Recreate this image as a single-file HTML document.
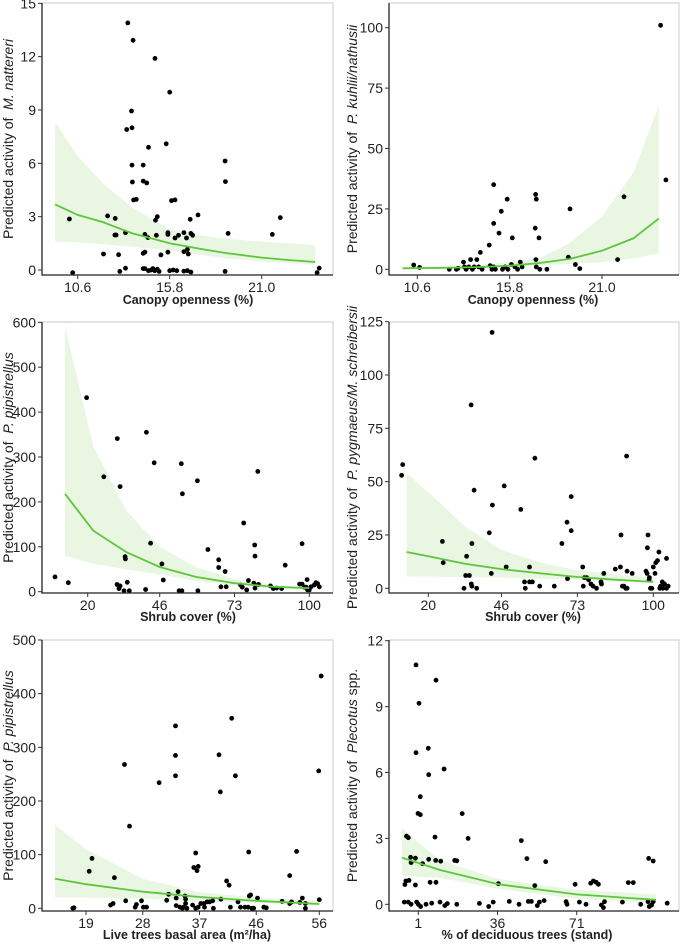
<!DOCTYPE html>
<html><head><meta charset="utf-8"><style>
html,body{margin:0;padding:0;background:#fff;}
svg{display:block;font-family:"Liberation Sans",Arial,sans-serif;}
</style></head><body>
<svg id="fig" width="680" height="944" viewBox="0 0 680 944" xmlns="http://www.w3.org/2000/svg"></svg>
<script>
// ---- Panel 1: M. nattereri vs canopy openness
const p1X=[10.13,10.32,12.06,12.29,12.72,12.7,12.77,12.91,12.98,13.3,13.3,13.37,13.43,13.64,13.67,13.67,13.69,13.73,13.76,13.91,14.3,14.3,14.5,14.6,14.4,14.57,14.3,14.4,14.3,14.4,14.6,14.75,14.85,14.95,15.1,15.2,14.97,15.0,15.1,15.05,15.3,15.6,15.7,15.7,15.7,15.8,15.8,16.0,16.2,15.9,16.1,16.1,16.3,16.6,16.6,16.75,16.8,16.85,16.6,16.8,17.0,16.96,17.0,17.1,17.4,18.93,18.95,18.93,19.1,21.6,22.05,24.13,24.25];
const p1Y=[2.87,-0.15,0.9,3.04,2.9,1.97,1.97,0.86,-0.08,2.1,0.1,7.9,13.9,8.94,8.0,5.9,4.95,12.92,3.94,3.97,5.9,5.0,4.9,6.9,2.0,1.82,0.94,1.0,0.08,0.08,-0.04,0.0,0.08,-0.04,0.04,-0.08,11.9,2.8,3.0,1.95,0.85,7.1,2.1,2.0,1.0,10.0,-0.04,0.0,-0.04,3.9,3.94,1.8,1.95,2.1,1.03,1.8,1.16,0.9,-0.06,-0.04,-0.12,2.85,2.06,1.95,3.1,6.13,4.97,-0.08,2.06,2.0,2.94,-0.15,0.1];
const p1FitX=[9.32,10.6,12,13.7,15.8,17.5,19,21,22.5,24.02];
const p1Fit=[3.69,3.1,2.7,2.06,1.5,1.2,0.95,0.7,0.56,0.45];
const p1Hi=[8.3,6.4,4.9,3.5,2.3,1.95,1.75,1.6,1.5,1.4];
const p1Lo=[1.6,1.55,1.45,1.3,1.1,0.85,0.65,0.48,0.38,0.3];
// ---- Panel 2: P. kuhlii/nathusii vs canopy openness
const p2X=[10.4,10.73,12.4,12.8,12.9,13.2,13.25,13.35,13.5,13.6,13.7,13.8,13.95,14.05,14.25,14.15,14.65,14.7,14.8,14.9,15.0,14.9,14.9,15.2,15.33,15.66,15.95,15.4,15.55,15.7,15.9,16.1,16.25,16.4,16.5,17.26,17.24,17.3,17.28,17.3,17.5,17.9,17.45,19.1,19.2,19.5,19.75,21.88,22.24,24.3,24.6];
const p2Y=[1.8,0.8,0,0,0.4,3,1,0,1,4,0,1,4,1,0,7,10,1.5,0,1,0,19,35,15,24,29,13,0,1,0,2,1,0,3,1,31,17,29,4,1,0,0,13,5,25,2,0.3,4,30,101,37];
const p2FitX=[9.77,12,14,15.8,17.5,19.2,21,22.76,24.2];
const p2Fit=[0.4,0.6,0.9,1.5,2.6,4.3,7.7,12.8,21];
const p2Hi=[0.8,1.2,1.8,3,4.5,11,22,40,67.7];
const p2Lo=[0.1,0.2,0.5,1.0,1.6,2.2,3,4.5,6.6];
// ---- Panel 3: P. pipistrellus vs shrub cover
const p3X=[8.2,13.0,19.6,25.8,30.7,30.6,31.7,31.3,31.7,33.5,33.6,33.1,35,34.3,40.9,41.2,42.7,44,46.8,47.3,53,54,53.8,54.2,59.6,59.8,63.4,67.3,67.3,68.1,69.6,70,75.2,75.8,76.3,77.4,78,80,80.3,80.4,80.4,81.4,81.7,86,87,88.2,90,91.3,97.4,96.5,97.4,98.2,98.8,99.4,100,100.6,101.8,102.4,103,103.6,99.2];
const p3Y=[33,20,432,256,341,16,234,7,13,78,73,2,2,21,5,355,108,287,62,26,2,2,285,218,247,2,94,71,54,11,45,11,15,10,153,4,25,19,104,79,8,268,16,13,7,8,7,59,107,17,17,10,10,4,4,11,15,20,18,11,27];
const p3FitX=[11.8,22,34,46,59,73,87,100];
const p3Fit=[218,136,88,55,33,19,11,8];
const p3Hi=[590,325,180,100,55,28,15,10];
const p3Lo=[80,62,50,38,24,14,8,5];
// ---- Panel 4: P. pygmaeus/M. schreibersii vs shrub cover
const p4X=[10.5,10.9,25,25.3,32.7,33.6,33.3,34.6,35.2,35.3,35.5,35.5,36.3,37.2,41.7,42.4,42.8,42.7,47,47.7,52.9,54.2,54.5,56,56,57,57.9,59.6,64.8,67.5,69.3,69.5,70.8,70.8,74.9,75.1,75.5,76.3,77,77.8,78.6,79.8,81.4,81.6,82.4,86.5,88.3,88.5,89,89.6,90.2,90.7,90.5,90.7,92.5,97.4,97.8,98.5,97.9,98.1,98.6,99,99.5,100,100.6,100.9,101.5,102,102.3,102.6,103.2,103.4,104,104.7,105.3,104.7];
const p4Y=[53,58,22,12,0,15,6,6,86,2,1,21,46,0,26,7,39,120,48,10,37,3,0,10,3,3,61,1,1,21,31,4.5,43,27,10,1,5,5,4,2,1,0,3,2,7,9,10,25,1,1,0,0,62,8,7,8,7,4,19,25,5,0,0,10,7,12,13,17,0,1,3,0,2,0,1,14];
const p4FitX=[12.3,20,33,46,60,73,87,100];
const p4Fit=[17,15,11.5,9,7,5.3,4,3];
const p4Hi=[54,45,29,18,12,8.5,6.5,5];
const p4Lo=[5.5,5.5,5.3,5,4.5,4,3.2,2.5];
// ---- Panel 5: P. pipistrellus vs live trees basal area
const p5X=[16.9,17.1,19.5,19.95,23.5,22.9,23.3,25.1,25.3,25.9,26.8,27,27.8,28.1,28.6,30.6,31.8,32.1,33.2,33.2,33.2,33.3,33.3,33.6,33.9,34.3,34.5,34.7,34.8,34.8,35,36.4,36.1,36.6,36.8,35.9,36.4,36.8,37.2,37.7,37.8,38.2,38.6,39.1,39.2,40.1,40.3,40.4,41.3,41.7,41.9,42.1,42.7,43.1,43.5,44.2,44.7,44.8,44.9,45.1,45.3,45.6,46.2,47.2,47.6,50.1,51.3,51.3,51.6,52.4,52.9,53.3,53.8,53.8,55.9,56,56.3];
const p5Y=[0,1,69,93,57,6,9,268,14,153,2,7,14,2,2,234,15,26,340,285,247,19,5,31,2,0,2,23,17,9,0,103,76,70,78,6,0,2,9,9,2,12,12,14,0,286,217,17,51,43,2,354,247,12,2,2,2,105,23,25,0,0,19,2,1,13,61,9,12,106,11,19,9,0,256,16,433];
const p5FitX=[14.1,19,28,37,46,56];
const p5Fit=[55,45,31,21,14,8];
const p5Hi=[155,110,55,30,20,14];
const p5Lo=[20,20,18,13,10,5];
// ---- Panel 6: Plecotus spp. vs % deciduous trees
const p6X=[-5.2,-4.9,-4.5,-3.1,-3.4,-4.2,-3.4,-2.4,-2.2,-2.2,-0.3,-0.3,0,0,0.3,1.3,0.85,1.9,1.9,1,2,2.9,4.4,5.4,5.6,5.6,6.2,6.9,8.4,8.8,8.7,10.9,8.8,10.6,12.7,13.8,12.4,17.1,18,18,20.4,23,28,32.1,34.1,36.4,41.2,45.5,46.5,49,49.6,51,52.5,53.6,54.5,56.6,57.3,66.3,66.7,70.3,72.2,75.1,77.2,78.4,79.6,80.6,81.9,82.8,83.3,91.2,93.8,96,99.3,102.5,102.8,103.1,104.1,104.8,104.8,111];
const p6Y=[0.1,0.9,1.06,1.09,0.1,3.1,3.03,2.14,1.9,0,2.1,0.88,10.9,6.9,0.1,9.15,4.14,4.9,4.08,0,-0.1,1.85,0,7.1,5.9,2.05,1.0,0.05,3.06,10.2,2.0,1.96,1.0,0.1,-0.06,0.03,6.16,2.0,1.98,0,4.13,3.0,0.04,-0.1,0.1,0.94,0.13,0,2.9,2.08,0.13,0.13,0.85,-0.06,0.1,0.17,1.94,0.12,0,0.91,0.1,0,0.96,1.06,1.0,0.91,-0.03,-0.15,0.12,0.1,0.99,0.99,0,0.12,2.09,-0.1,-0.03,1.97,0.12,0.05];
const p6FitX=[-6.2,10.6,36.4,71,106];
const p6Fit=[2.12,1.56,0.91,0.45,0.2];
const p6Hi=[3.45,2.0,1.15,0.65,0.45];
const p6Lo=[1.3,1.2,0.7,0.25,0.05];

const p1XTicks=[10.6,15.8,21.0], p1XTickLabels=["10.6","15.8","21.0"], p1YTicks=[0,3,6,9,12,15];
const p2XTicks=[10.6,15.8,21.0], p2XTickLabels=["10.6","15.8","21.0"], p2YTicks=[0,25,50,75,100];
const p3XTicks=[20,46,73,100], p3XTickLabels=["20","46","73","100"], p3YTicks=[0,100,200,300,400,500,600];
const p4XTicks=[20,46,73,100], p4XTickLabels=["20","46","73","100"], p4YTicks=[0,25,50,75,100,125];
const p5XTicks=[19,28,37,46,56], p5XTickLabels=["19","28","37","46","56"], p5YTicks=[0,100,200,300,400,500];
const p6XTicks=[1,36,71], p6XTickLabels=["1","36","71"], p6YTicks=[0,3,6,9,12];

const NS='http://www.w3.org/2000/svg';
const svg=document.getElementById('fig');
function mk(tag,attrs,parent){const e=document.createElementNS(NS,tag);for(const k in attrs)e.setAttribute(k,attrs[k]);(parent||svg).appendChild(e);return e;}

const panels=[
 {id:'p1',box:[42,3,333,275],xr:[10.6,77.7,21.0,261.7],yr:[0,270,15,3.3],X:p1X,Y:p1Y,fx:p1FitX,fit:p1Fit,hi:p1Hi,lo:p1Lo,xt:p1XTicks,xtl:p1XTickLabels,yt:p1YTicks,xtitle:'Canopy openness (%)',ypre:'Predicted activity of ',yit:'M. nattereri',ypost:'',xtx:188,xty:304,ytx:8},
 {id:'p2',box:[389,3,679,275],xr:[10.6,417.3,21.0,602],yr:[0,269.3,100,27.7],X:p2X,Y:p2Y,fx:p2FitX,fit:p2Fit,hi:p2Hi,lo:p2Lo,xt:p2XTicks,xtl:p2XTickLabels,yt:p2YTicks,xtitle:'Canopy openness (%)',ypre:'Predicted activity of ',yit:'P. kuhlii/nathusii',ypost:'',xtx:533,xty:304,ytx:352},
 {id:'p3',box:[42,322,333,593],xr:[20,87.7,100,309.3],yr:[0,591.7,600,322.3],X:p3X,Y:p3Y,fx:p3FitX,fit:p3Fit,hi:p3Hi,lo:p3Lo,xt:p3XTicks,xtl:p3XTickLabels,yt:p3YTicks,xtitle:'Shrub cover (%)',ypre:'Predicted activity of ',yit:'P. pipistrellus',ypost:'',xtx:188,xty:621,ytx:8},
 {id:'p4',box:[389,322,679,593],xr:[20,428.3,100,653.3],yr:[0,588.3,125,321.7],X:p4X,Y:p4Y,fx:p4FitX,fit:p4Fit,hi:p4Hi,lo:p4Lo,xt:p4XTicks,xtl:p4XTickLabels,yt:p4YTicks,xtitle:'Shrub cover (%)',ypre:'Predicted activity of ',yit:'P. pygmaeus/M. schreibersii',ypost:'',xtx:533,xty:621,ytx:352},
 {id:'p5',box:[42,640,333,911],xr:[19,86,56,319.3],yr:[0,908.3,500,640],X:p5X,Y:p5Y,fx:p5FitX,fit:p5Fit,hi:p5Hi,lo:p5Lo,xt:p5XTicks,xtl:p5XTickLabels,yt:p5YTicks,xtitle:'Live trees basal area (m²/ha)',ypre:'Predicted activity of ',yit:'P. pipistrellus',ypost:'',xtx:187,xty:939,ytx:8},
 {id:'p6',box:[389,640,679,911],xr:[1,418.3,71,576.7],yr:[0,904.3,12,640.7],X:p6X,Y:p6Y,fx:p6FitX,fit:p6Fit,hi:p6Hi,lo:p6Lo,xt:p6XTicks,xtl:p6XTickLabels,yt:p6YTicks,xtitle:'% of deciduous trees (stand)',ypre:'Predicted activity of ',yit:'Plecotus',ypost:' spp.',xtx:527,xty:939,ytx:352}
];

panels.forEach(p=>{
 const [L,T,R,B]=p.box;
 const xs=v=>p.xr[1]+(v-p.xr[0])*(p.xr[3]-p.xr[1])/(p.xr[2]-p.xr[0]);
 const ys=v=>p.yr[1]+(v-p.yr[0])*(p.yr[3]-p.yr[1])/(p.yr[2]-p.yr[0]);
 const g=mk('g',{});
 
 
 const br=mk('path',{d:`M${L},${T}H${R}V${B}`,fill:'none',stroke:'#d4d4d4','stroke-width':1.2},g);
 
 
 let d='';
 p.fx.forEach((v,i)=>{d+=(i?'L':'M')+xs(v).toFixed(1)+','+ys(p.hi[i]).toFixed(1);});
 for(let i=p.fx.length-1;i>=0;i--)d+='L'+xs(p.fx[i]).toFixed(1)+','+ys(p.lo[i]).toFixed(1);
 const band=mk('path',{d:d+'Z',fill:'#e9f6e2',stroke:'none'},g);
 
 
 const pg=mk('g',{fill:'#000'},g);
 
 
 p.X.forEach((v,i)=>{
  const c=mk('circle',{cx:xs(v).toFixed(1),cy:ys(p.Y[i]).toFixed(1),r:2.4},pg);
  
  
 });
 let ld='';
 p.fx.forEach((v,i)=>{ld+=(i?'L':'M')+xs(v).toFixed(1)+','+ys(p.fit[i]).toFixed(1);});
 const line=mk('path',{d:ld,fill:'none',stroke:'#5cc63c','stroke-width':1.8},g);
 
 
 const ax=mk('path',{d:`M${L},${T}V${B}H${R}`,fill:'none',stroke:'#222','stroke-width':1.3},g);
 
 
 p.yt.forEach(v=>{
  const y=ys(v);
  mk('line',{x1:L-4,x2:L,y1:y,y2:y,stroke:'#333','stroke-width':1},g);
  const t=mk('text',{x:L-6,y:y+5,'text-anchor':'end','font-size':14,fill:'#222'},g);
  t.textContent=String(v);
  
  
 });
 p.xt.forEach((v,i)=>{
  const x=xs(v);
  mk('line',{x1:x,x2:x,y1:B,y2:B+4,stroke:'#333','stroke-width':1},g);
  const t=mk('text',{x:x,y:B+17,'text-anchor':'middle','font-size':14,fill:'#222'},g);
  t.textContent=p.xtl[i];
  
  
 });
 const xt=mk('text',{x:p.xtx,y:p.xty,'text-anchor':'middle','font-size':12.5,'font-weight':'bold',fill:'#222'},g);
 xt.textContent=p.xtitle;
 
 
 const cy=(T+B)/2;
 const yt=mk('text',{x:0,y:0,'text-anchor':'middle','font-size':14,fill:'#222',transform:`translate(${p.ytx+5},${cy}) rotate(-90)`},g);
 
 
 const s1=mk('tspan',{},yt);s1.textContent=p.ypre+'\u00a0';
 const s2=mk('tspan',{'font-style':'italic'},yt);s2.textContent=p.yit;
 if(p.ypost){const s3=mk('tspan',{},yt);s3.textContent=p.ypost;}
});
</script>
</body></html>
